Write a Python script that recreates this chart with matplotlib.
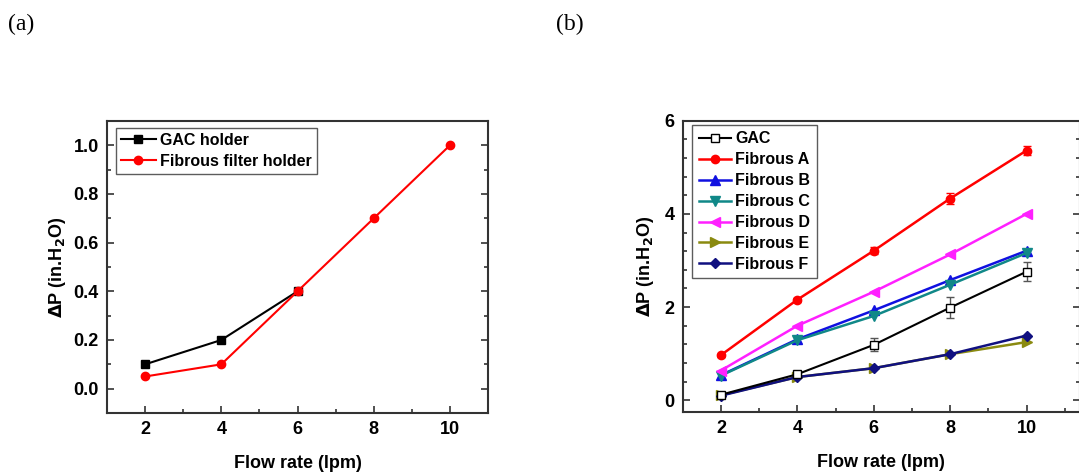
import matplotlib
matplotlib.use("Agg")
import matplotlib.pyplot as plt
from matplotlib.ticker import MultipleLocator

plt.rcParams['font.family'] = ['Liberation Sans', 'DejaVu Sans']
plt.rcParams['font.weight'] = 'bold'

# ---- data panel (a)
flow_a = [2, 4, 6, 8, 10]
gac_holder_x = [2, 4, 6]
gac_holder = [0.10, 0.20, 0.40]
fibrous_holder = [0.05, 0.10, 0.40, 0.70, 1.00]

# ---- data panel (b)
flow_b = [2, 4, 6, 8, 10]
gac = [0.12, 0.56, 1.19, 1.99, 2.76]
gac_err = [0.03, 0.05, 0.14, 0.22, 0.21]
fib_a = [0.97, 2.16, 3.21, 4.33, 5.36]
fib_a_err = [0.03, 0.04, 0.08, 0.12, 0.10]
fib_b = [0.54, 1.31, 1.93, 2.58, 3.21]
fib_c = [0.53, 1.29, 1.81, 2.48, 3.16]
fib_d = [0.64, 1.60, 2.33, 3.13, 4.00]
fib_e = [0.11, 0.50, 0.69, 0.99, 1.25]
fib_f = [0.10, 0.50, 0.69, 0.99, 1.39]

W, H = 1079, 473
fig = plt.figure(figsize=(W / 100, H / 100), dpi=100)

def ax_rect(l, r, t, b):
    return [l / W, 1 - b / H, (r - l) / W, (b - t) / H]

spine_col = '#333333'

def style(ax):
    for s in ax.spines.values():
        s.set_color(spine_col)
        s.set_linewidth(1.5)
    ax.tick_params(which='both', direction='in', top=False, right=True,
                   color=spine_col, width=1.2)
    ax.tick_params(which='major', length=5, labelsize=13, pad=6)
    ax.tick_params(which='minor', length=3)
    for lab in ax.get_xticklabels() + ax.get_yticklabels():
        lab.set_fontweight('bold')

ylabel = r'$\Delta$P (in.H$_\mathbf{2}$O)'

# ---------------- panel (a)
ax1 = fig.add_axes(ax_rect(107, 488, 121, 413))
ax1.plot(gac_holder_x, gac_holder, color='black', marker='s', ms=5.5,
         lw=1.5, label='GAC holder')
ax1.plot(flow_a, fibrous_holder, color='red', marker='o', ms=6,
         lw=1.5, label='Fibrous filter holder')
ax1.set_xlim(1, 11)
ax1.set_ylim(-0.1, 1.1)
ax1.set_xticks([2, 4, 6, 8, 10])
ax1.xaxis.set_minor_locator(MultipleLocator(1))
ax1.set_yticks([0.0, 0.2, 0.4, 0.6, 0.8, 1.0])
ax1.set_yticklabels(['0.0', '0.2', '0.4', '0.6', '0.8', '1.0'])
ax1.yaxis.set_minor_locator(MultipleLocator(0.1))
style(ax1)
ax1.set_xlabel('Flow rate (lpm)', fontsize=13, fontweight='bold', labelpad=12)
ax1.set_ylabel(ylabel, fontsize=13, fontweight='bold', labelpad=4)
leg1 = ax1.legend(loc='upper left', bbox_to_anchor=(0.023, 0.977),
                  borderaxespad=0,
                  prop={'weight': 'bold', 'size': 11.5}, frameon=True,
                  fancybox=False, edgecolor=spine_col, handlelength=2.2,
                  borderpad=0.3, labelspacing=0.4, handletextpad=0.3)
leg1.get_frame().set_linewidth(1.0)

# ---------------- panel (b)
ax2 = fig.add_axes(ax_rect(682.7, 1080, 120.7, 412))
h_gac = ax2.errorbar(flow_b, gac, yerr=gac_err, color='black', marker='s', ms=6,
                     mfc='white', mec='black', lw=1.5, capsize=3, elinewidth=1,
                     ecolor='#555555', label='GAC')
h_a = ax2.errorbar(flow_b, fib_a, yerr=fib_a_err, color='red', marker='o', ms=6,
                   lw=1.8, capsize=3, elinewidth=1.2, label='Fibrous A')
h_b, = ax2.plot(flow_b, fib_b, color='#1010e0', marker='^', ms=7, lw=1.8, label='Fibrous B')
h_c, = ax2.plot(flow_b, fib_c, color='#108888', marker='v', ms=7, lw=1.8, label='Fibrous C')
h_d, = ax2.plot(flow_b, fib_d, color='#ff20ff', marker='<', ms=7, lw=1.8, label='Fibrous D')
h_e, = ax2.plot(flow_b, fib_e, color='#8a8a10', marker='>', ms=7, lw=1.8, label='Fibrous E')
h_f, = ax2.plot(flow_b, fib_f, color='#101080', marker='D', ms=5.5, lw=1.8, label='Fibrous F')
ax2.set_xlim(1, 11.4)
ax2.set_ylim(-0.25, 6)
ax2.set_xticks([2, 4, 6, 8, 10])
ax2.xaxis.set_minor_locator(MultipleLocator(1))
ax2.set_yticks([0, 2, 4, 6])
ax2.yaxis.set_minor_locator(MultipleLocator(0.4))
style(ax2)
ax2.set_xlabel('Flow rate (lpm)', fontsize=13, fontweight='bold', labelpad=12)
ax2.set_ylabel(ylabel, fontsize=13, fontweight='bold', labelpad=6)
handles = [h_gac[0], h_a[0], h_b, h_c, h_d, h_e, h_f]
labels = ['GAC', 'Fibrous A', 'Fibrous B', 'Fibrous C', 'Fibrous D',
          'Fibrous E', 'Fibrous F']
leg2 = ax2.legend(handles, labels, loc='upper left',
                  bbox_to_anchor=(0.024, 0.985), borderaxespad=0,
                  prop={'weight': 'bold', 'size': 11.5}, frameon=True,
                  fancybox=False, edgecolor=spine_col, handlelength=2.0,
                  borderpad=0.4, labelspacing=0.37, handletextpad=0.3)
leg2.get_frame().set_linewidth(1.0)

fig.text(8 / W, 1 - 24 / H, '(a)', fontsize=17, family='Liberation Serif',
         fontweight='normal', va='center', ha='left')
fig.text(556 / W, 1 - 24 / H, '(b)', fontsize=17, family='Liberation Serif',
         fontweight='normal', va='center', ha='left')

fig.savefig('out.png', dpi=100)
